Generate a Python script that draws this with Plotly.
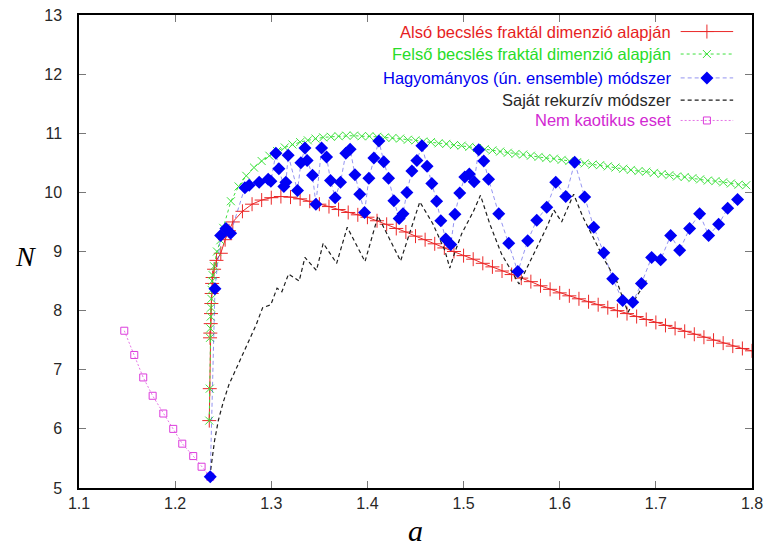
import numpy as np
import plotly.graph_objects as go

# ---------------- data ----------------
# Lower estimate (red, "+")
red_a = [1.2355, 1.236, 1.2363, 1.2366, 1.237, 1.2373, 1.2377, 1.238, 1.2385, 1.239, 1.2405, 1.243,
         1.2475, 1.252, 1.256] + [round(1.26 + 0.01 * k, 3) for k in range(55)]
red_n = [6.14, 6.68, 7.54, 7.62, 7.78, 7.95, 8.12, 8.29, 8.46, 8.56, 8.70, 8.85,
         8.97, 9.20, 9.35,
         9.50, 9.68, 9.80, 9.87, 9.91, 9.93, 9.92, 9.89, 9.85, 9.80,
         9.76, 9.71, 9.66, 9.62, 9.58, 9.52, 9.46, 9.39, 9.33, 9.26,
         9.20, 9.13, 9.06, 9.00, 8.93, 8.87, 8.80, 8.74, 8.67, 8.61,
         8.55, 8.49, 8.42, 8.36, 8.30, 8.25, 8.20, 8.15, 8.10, 8.05,
         8.00, 7.95, 7.90, 7.85, 7.80, 7.75, 7.70, 7.65, 7.60, 7.55,
         7.50, 7.45, 7.40, 7.36, 7.32]

# Upper estimate (green, "x")
green_a = [1.2355, 1.236, 1.2363, 1.2366, 1.237, 1.2373, 1.2377, 1.238, 1.2385, 1.239, 1.2405,
           1.2435, 1.247] + [round(1.25 + 0.008 * k, 3) for k in range(69)]
green_n = [6.14, 6.68, 7.54, 7.70, 7.90, 8.05, 8.20, 8.35, 8.50, 8.60, 8.75,
           9.00, 9.19,
           9.40, 9.85, 10.10, 10.28, 10.42, 10.53, 10.62, 10.70, 10.76, 10.81,
           10.85, 10.88, 10.91, 10.93, 10.94, 10.95, 10.96, 10.96, 10.95, 10.95,
           10.94, 10.93, 10.92, 10.91, 10.89, 10.88, 10.86, 10.85, 10.83, 10.82,
           10.80, 10.79, 10.77, 10.75, 10.73, 10.71, 10.69, 10.67, 10.65, 10.64,
           10.62, 10.60, 10.58, 10.57, 10.55, 10.53, 10.51, 10.49, 10.47, 10.46,
           10.44, 10.42, 10.40, 10.38, 10.36, 10.35, 10.33, 10.31, 10.29, 10.27,
           10.26, 10.24, 10.22, 10.20, 10.19, 10.17, 10.15, 10.13, 10.12]

# Ensemble method (blue diamonds)
blue_a = [1.2365, 1.2414, 1.2473, 1.2528, 1.2577, 1.2725, 1.2770, 1.2874, 1.2968, 1.2996,
          1.3048, 1.3079, 1.3131, 1.3152, 1.3176, 1.3273, 1.3308, 1.3350, 1.3373, 1.3429,
          1.3464, 1.3523, 1.3575, 1.3616, 1.3664, 1.3720, 1.3775, 1.3820, 1.3870, 1.3920,
          1.3970, 1.4015, 1.4067, 1.4119, 1.4170, 1.4220, 1.4275, 1.4330, 1.4370, 1.4410,
          1.4462, 1.4514, 1.4566, 1.4620, 1.4670, 1.4720, 1.4763, 1.4815, 1.4867, 1.4910,
          1.4960, 1.5013, 1.5060, 1.5110, 1.5158, 1.5210, 1.5260, 1.5366, 1.5470, 1.5564,
          1.5667, 1.5761, 1.5865, 1.5959, 1.6063, 1.6156, 1.6260, 1.6354, 1.6458, 1.6551,
          1.6655, 1.6760, 1.6850, 1.6956, 1.7050, 1.7154, 1.7248, 1.7351, 1.7455, 1.7549,
          1.7653, 1.7747, 1.7850]
blue_n = [5.19, 8.37, 9.27, 9.39, 9.31, 10.08, 10.12, 10.17, 10.22, 10.19,
          10.66, 10.40, 10.10, 10.17, 10.63, 10.03, 10.50, 10.75, 10.54, 10.29,
          9.80, 10.75, 10.60, 10.20, 9.91, 10.17, 10.66, 10.73, 10.30, 9.97,
          9.66, 10.24, 10.58, 10.87, 10.52, 10.24, 9.86, 9.56, 9.64, 10.00,
          10.36, 10.54, 10.79, 10.44, 10.15, 9.85, 9.52, 9.21, 9.12, 9.63,
          9.99, 10.26, 10.31, 10.18, 10.72, 10.53, 10.22, 9.64, 9.14, 8.66,
          9.18, 9.53, 9.75, 10.17, 9.93, 10.51, 9.92, 9.41, 8.98, 8.54,
          8.17, 8.14, 8.46, 8.90, 8.86, 9.27, 9.02, 9.39, 9.64, 9.27,
          9.46, 9.73, 9.88]

# Own recursive method (black dashed)
black_a = [1.236, 1.238, 1.241, 1.245, 1.250, 1.256, 1.263, 1.270, 1.277, 1.284,
           1.291, 1.2995, 1.306, 1.311, 1.318, 1.329, 1.335, 1.347, 1.354, 1.368,
           1.379, 1.3975, 1.411, 1.4345, 1.4545, 1.468, 1.4805, 1.4857, 1.491, 1.498,
           1.510, 1.5176, 1.5272, 1.5394, 1.5577, 1.5688, 1.5775, 1.5862, 1.594, 1.602,
           1.6145, 1.6242, 1.6347, 1.6468, 1.659, 1.671, 1.6797, 1.6901]
black_n = [5.19, 5.45, 5.80, 6.15, 6.45, 6.75, 7.00, 7.25, 7.50, 7.75,
           8.05, 8.10, 8.38, 8.32, 8.62, 8.50, 8.90, 8.68, 9.14, 8.80,
           9.41, 8.83, 9.60, 8.84, 9.84, 9.47, 9.02, 8.72, 8.99, 9.30,
           9.67, 9.95, 9.47, 8.96, 8.45, 8.82, 9.13, 9.40, 9.70, 9.50,
           9.97, 9.58, 9.24, 8.85, 8.51, 7.97, 8.23, 8.51]

# Non-chaotic case (magenta squares)
pink_a = [1.1471, 1.1575, 1.1668, 1.1766, 1.1877, 1.1980, 1.2074, 1.2188, 1.2275, 1.2365]
pink_n = [7.66, 7.25, 6.87, 6.56, 6.26, 6.00, 5.75, 5.54, 5.36, 5.19]

x_ticks = [1.1, 1.2, 1.3, 1.4, 1.5, 1.6, 1.7, 1.8]
y_ticks = [5, 6, 7, 8, 9, 10, 11, 12, 13]

legend_labels = ["Alsó becslés fraktál dimenzió alapján",
                 "Felső becslés fraktál dimenzió alapján",
                 "Hagyományos (ún. ensemble) módszer",
                 "Saját rekurzív módszer",
                 "Nem kaotikus eset"]

# ---------------- styles ----------------
RED = "rgb(235,40,40)"
GREEN = "rgb(60,225,60)"
BLUE = "rgb(0,0,245)"
BLUE_LINE = "rgba(60,60,230,0.55)"
BLACK = "rgb(30,30,30)"
PINK = "rgb(220,60,220)"
PINK_LINE = "rgba(220,60,220,0.7)"

styles = [
    dict(line=dict(color=RED, width=1), marker=dict(symbol="cross-thin-open", size=10,
         color=RED, line=dict(color=RED, width=1)), mode="lines+markers"),
    dict(line=dict(color=GREEN, width=1, dash="3px,3px"), marker=dict(symbol="x-thin-open", size=8,
         color=GREEN, line=dict(color=GREEN, width=1)), mode="lines+markers"),
    dict(line=dict(color=BLUE_LINE, width=1, dash="4px,3px"), marker=dict(symbol="diamond", size=10,
         color=BLUE), mode="lines+markers"),
    dict(line=dict(color=BLACK, width=1.2, dash="4px,3px"), mode="lines"),
    dict(line=dict(color=PINK_LINE, width=1, dash="2px,2px"), marker=dict(symbol="square-open", size=7,
         color=PINK, line=dict(color=PINK, width=1)), mode="lines+markers"),
]
text_colors = ["rgb(230,30,30)", "rgb(40,220,40)", "rgb(0,0,240)", "rgb(40,40,40)", "rgb(210,40,210)"]

series = [(red_a, red_n), (green_a, green_n), (blue_a, blue_n), (black_a, black_n), (pink_a, pink_n)]

fig = go.Figure()
draw_order = [4, 0, 1, 3, 2]
for i in draw_order:
    a, n = series[i]
    fig.add_trace(go.Scatter(x=a, y=n, name=legend_labels[i], showlegend=False, **styles[i]))

# custom legend: text right-aligned, sample on the right
row_y = [0.965, 0.9175, 0.867, 0.820, 0.777]
for i, lab in enumerate(legend_labels):
    fig.add_annotation(x=0.8826, y=row_y[i], xref="paper", yref="paper", text=lab,
                       showarrow=False, xanchor="right", yanchor="middle",
                       font=dict(family="Liberation Sans, Arial, sans-serif", size=16.5,
                                 color=text_colors[i]))
    st = styles[i]
    fig.add_trace(go.Scatter(x=[0.894, 0.972], y=[row_y[i], row_y[i]], mode="lines",
                             line=st["line"], xaxis="x2", yaxis="y2", showlegend=False,
                             hoverinfo="skip"))
    if "marker" in st:
        fig.add_trace(go.Scatter(x=[0.933], y=[row_y[i]], mode="markers", marker=st["marker"],
                                 xaxis="x2", yaxis="y2", showlegend=False, hoverinfo="skip"))

# axis titles (upright italic serif)
fig.add_annotation(x=-0.08, y=0.49, xref="paper", yref="paper", text="<i>N</i>", showarrow=False,
                   font=dict(family="Liberation Serif, Times New Roman, serif", size=28, color="black"),
                   xanchor="center", yanchor="middle")
fig.add_annotation(x=0.5, y=-0.089, xref="paper", yref="paper", text="<i>a</i>", showarrow=False,
                   font=dict(family="Liberation Serif, Times New Roman, serif", size=30, color="black"),
                   xanchor="center", yanchor="middle")

axis_common = dict(showgrid=False, zeroline=False, showline=True, linecolor="black", linewidth=1.5,
                   mirror="ticks", ticks="inside", ticklen=7, tickwidth=1, tickcolor="rgb(120,120,120)",
                   automargin=False,
                   tickfont=dict(family="Liberation Sans, Arial, sans-serif", size=16, color="rgb(40,40,40)"))

fig.update_layout(
    width=766, height=547,
    margin=dict(l=79, r=14, t=15, b=59, autoexpand=False),
    paper_bgcolor="white", plot_bgcolor="white",
    xaxis=dict(range=[1.1, 1.8], tickvals=x_ticks, ticktext=[f"{v:.1f}" for v in x_ticks],
               **axis_common),
    yaxis=dict(range=[5, 13], tickvals=y_ticks, ticktext=[str(v) for v in y_ticks],
               ticklabelstandoff=12, **axis_common),
    xaxis2=dict(overlaying="x", range=[0, 1], visible=False),
    yaxis2=dict(overlaying="y", range=[0, 1], visible=False),
    showlegend=False,
)

fig.write_html("out.html")
